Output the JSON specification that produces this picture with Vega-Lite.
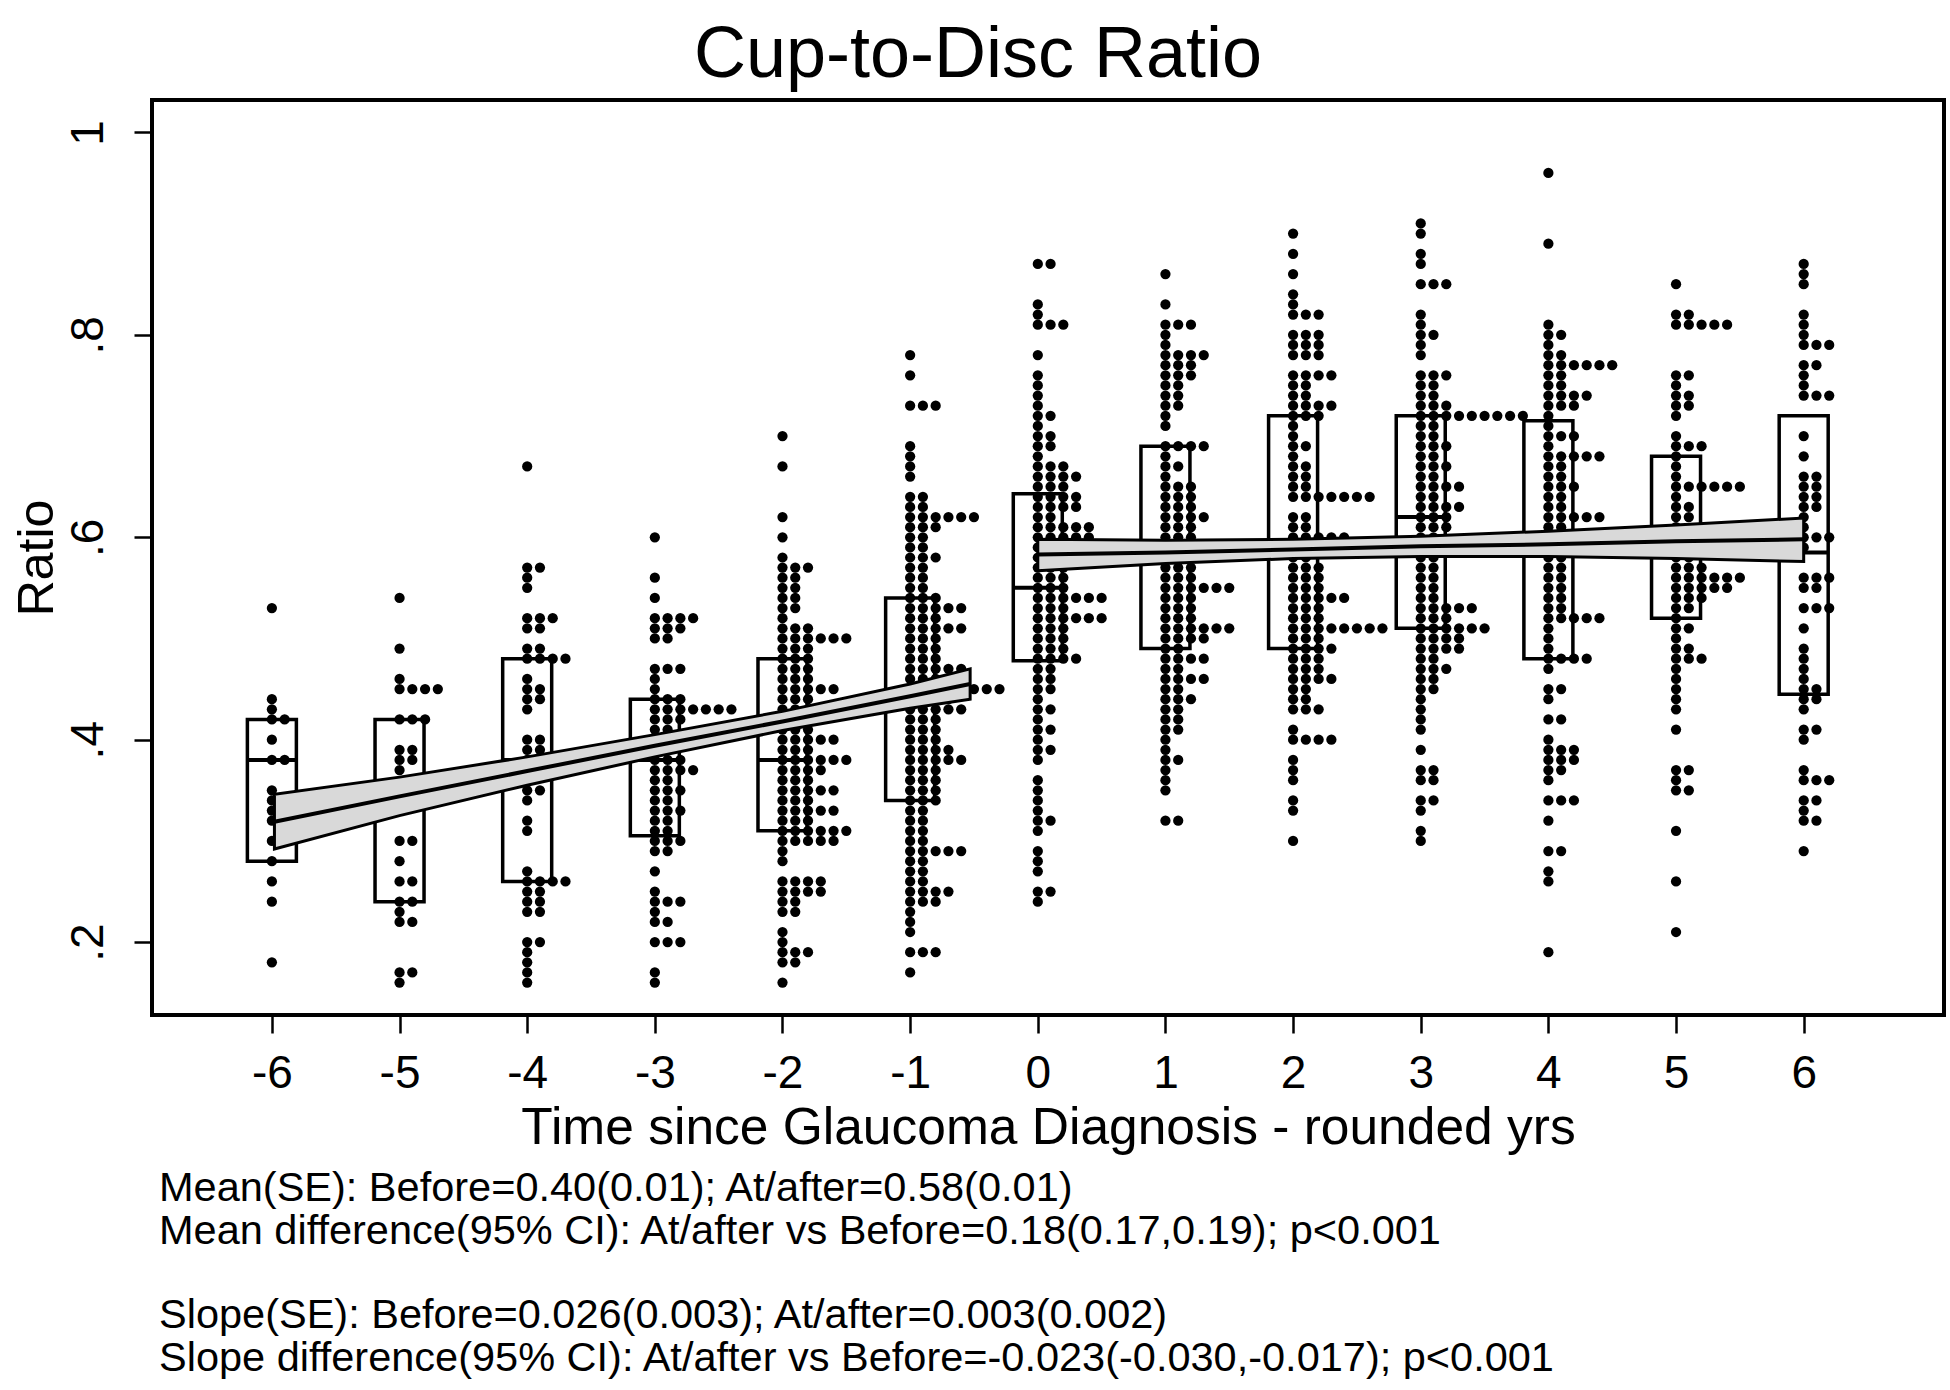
{
"$schema":"https://vega.github.io/schema/vega-lite/v6.json",
"background":"white",
"padding":{"left":10,"top":17,"right":0,"bottom":0},
"title":{"text":["Mean(SE): Before=0.40(0.01); At/after=0.58(0.01)","Mean difference(95% CI): At/after vs Before=0.18(0.17,0.19); p<0.001"],"subtitle":["Slope(SE): Before=0.026(0.003); At/after=0.003(0.002)","Slope difference(95% CI): At/after vs Before=-0.023(-0.030,-0.017); p<0.001"],"orient":"bottom","anchor":"start","frame":"bounds","dx":149,"offset":12,"fontSize":41.5,"lineHeight":43,"font":"Liberation Sans","fontWeight":"normal","color":"black","subtitleFontSize":41.5,"subtitleLineHeight":43,"subtitleFont":"Liberation Sans","subtitleFontWeight":"normal","subtitleColor":"black","subtitlePadding":43},
"config":{
"font":"Liberation Sans",
"view":{"stroke":"black","strokeWidth":4},
"axis":{"grid":false,"domain":false,"tickColor":"black","tickWidth":2.5,"tickSize":18,"labelColor":"black","titleColor":"black","labelFont":"Liberation Sans","titleFont":"Liberation Sans","labelFontSize":46,"titleFontSize":50,"titleFontWeight":"normal"}
},
"datasets":{
"boxes":[
{"t":-6,"q1":0.28,"med":0.38,"q3":0.42},
{"t":-5,"q1":0.24,"med":0.345,"q3":0.42},
{"t":-4,"q1":0.26,"med":0.38,"q3":0.48},
{"t":-3,"q1":0.305,"med":0.38,"q3":0.44},
{"t":-2,"q1":0.31,"med":0.38,"q3":0.48},
{"t":-1,"q1":0.34,"med":0.445,"q3":0.54},
{"t":0,"q1":0.478,"med":0.55,"q3":0.643},
{"t":1,"q1":0.49,"med":0.585,"q3":0.69},
{"t":2,"q1":0.49,"med":0.588,"q3":0.72},
{"t":3,"q1":0.51,"med":0.62,"q3":0.72},
{"t":4,"q1":0.48,"med":0.594,"q3":0.715},
{"t":5,"q1":0.52,"med":0.596,"q3":0.68},
{"t":6,"q1":0.445,"med":0.585,"q3":0.72}
],
"fits":[
{"g":"b","x":-5.98,"fit":0.319,"lo":0.292,"hi":0.346},
{"g":"b","x":-5,"fit":0.344,"lo":0.325,"hi":0.363},
{"g":"b","x":-4,"fit":0.369,"lo":0.355,"hi":0.383},
{"g":"b","x":-3,"fit":0.394,"lo":0.383,"hi":0.405},
{"g":"b","x":-2,"fit":0.418,"lo":0.409,"hi":0.428},
{"g":"b","x":-1,"fit":0.443,"lo":0.431,"hi":0.455},
{"g":"b","x":-0.53,"fit":0.455,"lo":0.44,"hi":0.47},
{"g":"a","x":0,"fit":0.583,"lo":0.567,"hi":0.598},
{"g":"a","x":1,"fit":0.585,"lo":0.574,"hi":0.597},
{"g":"a","x":2,"fit":0.588,"lo":0.579,"hi":0.598},
{"g":"a","x":3,"fit":0.591,"lo":0.581,"hi":0.601},
{"g":"a","x":4,"fit":0.593,"lo":0.581,"hi":0.606},
{"g":"a","x":5,"fit":0.596,"lo":0.579,"hi":0.612},
{"g":"a","x":6,"fit":0.598,"lo":0.576,"hi":0.619}
],
"dots":[
{"t":-6,"r":0.53},{"t":-6,"r":0.44},{"t":-6,"r":0.43},{"t":-6,"r":0.42},{"t":-6,"r":0.42},{"t":-6,"r":0.4},{"t":-6,"r":0.38},{"t":-6,"r":0.38},{"t":-6,"r":0.35},{"t":-6,"r":0.34},{"t":-6,"r":0.33},{"t":-6,"r":0.32},{"t":-6,"r":0.3},{"t":-6,"r":0.28},{"t":-6,"r":0.26},{"t":-6,"r":0.24},{"t":-6,"r":0.18},
{"t":-5,"r":0.54},{"t":-5,"r":0.49},{"t":-5,"r":0.46},{"t":-5,"r":0.45},{"t":-5,"r":0.45},{"t":-5,"r":0.45},{"t":-5,"r":0.45},{"t":-5,"r":0.42},{"t":-5,"r":0.42},{"t":-5,"r":0.42},{"t":-5,"r":0.39},{"t":-5,"r":0.39},{"t":-5,"r":0.38},{"t":-5,"r":0.38},{"t":-5,"r":0.37},{"t":-5,"r":0.35},{"t":-5,"r":0.33},{"t":-5,"r":0.3},{"t":-5,"r":0.3},{"t":-5,"r":0.28},{"t":-5,"r":0.26},{"t":-5,"r":0.26},{"t":-5,"r":0.24},{"t":-5,"r":0.24},{"t":-5,"r":0.23},{"t":-5,"r":0.22},{"t":-5,"r":0.22},{"t":-5,"r":0.17},{"t":-5,"r":0.17},{"t":-5,"r":0.16},
{"t":-4,"r":0.67},{"t":-4,"r":0.57},{"t":-4,"r":0.57},{"t":-4,"r":0.56},{"t":-4,"r":0.55},{"t":-4,"r":0.52},{"t":-4,"r":0.52},{"t":-4,"r":0.52},{"t":-4,"r":0.51},{"t":-4,"r":0.51},{"t":-4,"r":0.49},{"t":-4,"r":0.49},{"t":-4,"r":0.48},{"t":-4,"r":0.48},{"t":-4,"r":0.48},{"t":-4,"r":0.48},{"t":-4,"r":0.46},{"t":-4,"r":0.45},{"t":-4,"r":0.45},{"t":-4,"r":0.44},{"t":-4,"r":0.44},{"t":-4,"r":0.43},{"t":-4,"r":0.4},{"t":-4,"r":0.4},{"t":-4,"r":0.39},{"t":-4,"r":0.39},{"t":-4,"r":0.38},{"t":-4,"r":0.37},{"t":-4,"r":0.36},{"t":-4,"r":0.35},{"t":-4,"r":0.35},{"t":-4,"r":0.34},{"t":-4,"r":0.32},{"t":-4,"r":0.31},{"t":-4,"r":0.27},{"t":-4,"r":0.26},{"t":-4,"r":0.26},{"t":-4,"r":0.26},{"t":-4,"r":0.26},{"t":-4,"r":0.25},{"t":-4,"r":0.25},{"t":-4,"r":0.24},{"t":-4,"r":0.24},{"t":-4,"r":0.23},{"t":-4,"r":0.23},{"t":-4,"r":0.2},{"t":-4,"r":0.2},{"t":-4,"r":0.19},{"t":-4,"r":0.18},{"t":-4,"r":0.17},{"t":-4,"r":0.16},
{"t":-3,"r":0.6},{"t":-3,"r":0.56},{"t":-3,"r":0.54},{"t":-3,"r":0.52},{"t":-3,"r":0.52},{"t":-3,"r":0.52},{"t":-3,"r":0.52},{"t":-3,"r":0.51},{"t":-3,"r":0.51},{"t":-3,"r":0.51},{"t":-3,"r":0.5},{"t":-3,"r":0.5},{"t":-3,"r":0.47},{"t":-3,"r":0.47},{"t":-3,"r":0.47},{"t":-3,"r":0.46},{"t":-3,"r":0.45},{"t":-3,"r":0.44},{"t":-3,"r":0.44},{"t":-3,"r":0.44},{"t":-3,"r":0.43},{"t":-3,"r":0.43},{"t":-3,"r":0.43},{"t":-3,"r":0.43},{"t":-3,"r":0.43},{"t":-3,"r":0.43},{"t":-3,"r":0.43},{"t":-3,"r":0.42},{"t":-3,"r":0.42},{"t":-3,"r":0.42},{"t":-3,"r":0.41},{"t":-3,"r":0.41},{"t":-3,"r":0.4},{"t":-3,"r":0.39},{"t":-3,"r":0.38},{"t":-3,"r":0.38},{"t":-3,"r":0.38},{"t":-3,"r":0.37},{"t":-3,"r":0.37},{"t":-3,"r":0.37},{"t":-3,"r":0.37},{"t":-3,"r":0.36},{"t":-3,"r":0.36},{"t":-3,"r":0.35},{"t":-3,"r":0.35},{"t":-3,"r":0.35},{"t":-3,"r":0.34},{"t":-3,"r":0.34},{"t":-3,"r":0.33},{"t":-3,"r":0.33},{"t":-3,"r":0.33},{"t":-3,"r":0.32},{"t":-3,"r":0.32},{"t":-3,"r":0.31},{"t":-3,"r":0.31},{"t":-3,"r":0.3},{"t":-3,"r":0.3},{"t":-3,"r":0.3},{"t":-3,"r":0.29},{"t":-3,"r":0.29},{"t":-3,"r":0.27},{"t":-3,"r":0.25},{"t":-3,"r":0.24},{"t":-3,"r":0.24},{"t":-3,"r":0.24},{"t":-3,"r":0.23},{"t":-3,"r":0.22},{"t":-3,"r":0.22},{"t":-3,"r":0.2},{"t":-3,"r":0.2},{"t":-3,"r":0.2},{"t":-3,"r":0.17},{"t":-3,"r":0.16},
{"t":-2,"r":0.7},{"t":-2,"r":0.67},{"t":-2,"r":0.62},{"t":-2,"r":0.6},{"t":-2,"r":0.58},{"t":-2,"r":0.57},{"t":-2,"r":0.57},{"t":-2,"r":0.57},{"t":-2,"r":0.56},{"t":-2,"r":0.56},{"t":-2,"r":0.55},{"t":-2,"r":0.55},{"t":-2,"r":0.54},{"t":-2,"r":0.54},{"t":-2,"r":0.53},{"t":-2,"r":0.53},{"t":-2,"r":0.52},{"t":-2,"r":0.51},{"t":-2,"r":0.51},{"t":-2,"r":0.51},{"t":-2,"r":0.5},{"t":-2,"r":0.5},{"t":-2,"r":0.5},{"t":-2,"r":0.5},{"t":-2,"r":0.5},{"t":-2,"r":0.5},{"t":-2,"r":0.49},{"t":-2,"r":0.49},{"t":-2,"r":0.49},{"t":-2,"r":0.48},{"t":-2,"r":0.48},{"t":-2,"r":0.48},{"t":-2,"r":0.47},{"t":-2,"r":0.47},{"t":-2,"r":0.47},{"t":-2,"r":0.46},{"t":-2,"r":0.46},{"t":-2,"r":0.46},{"t":-2,"r":0.45},{"t":-2,"r":0.45},{"t":-2,"r":0.45},{"t":-2,"r":0.45},{"t":-2,"r":0.45},{"t":-2,"r":0.44},{"t":-2,"r":0.44},{"t":-2,"r":0.44},{"t":-2,"r":0.43},{"t":-2,"r":0.43},{"t":-2,"r":0.43},{"t":-2,"r":0.42},{"t":-2,"r":0.42},{"t":-2,"r":0.42},{"t":-2,"r":0.41},{"t":-2,"r":0.41},{"t":-2,"r":0.41},{"t":-2,"r":0.4},{"t":-2,"r":0.4},{"t":-2,"r":0.4},{"t":-2,"r":0.4},{"t":-2,"r":0.4},{"t":-2,"r":0.39},{"t":-2,"r":0.39},{"t":-2,"r":0.39},{"t":-2,"r":0.38},{"t":-2,"r":0.38},{"t":-2,"r":0.38},{"t":-2,"r":0.38},{"t":-2,"r":0.38},{"t":-2,"r":0.38},{"t":-2,"r":0.37},{"t":-2,"r":0.37},{"t":-2,"r":0.37},{"t":-2,"r":0.37},{"t":-2,"r":0.36},{"t":-2,"r":0.36},{"t":-2,"r":0.36},{"t":-2,"r":0.35},{"t":-2,"r":0.35},{"t":-2,"r":0.35},{"t":-2,"r":0.35},{"t":-2,"r":0.35},{"t":-2,"r":0.34},{"t":-2,"r":0.34},{"t":-2,"r":0.34},{"t":-2,"r":0.33},{"t":-2,"r":0.33},{"t":-2,"r":0.33},{"t":-2,"r":0.33},{"t":-2,"r":0.33},{"t":-2,"r":0.32},{"t":-2,"r":0.32},{"t":-2,"r":0.32},{"t":-2,"r":0.31},{"t":-2,"r":0.31},{"t":-2,"r":0.31},{"t":-2,"r":0.31},{"t":-2,"r":0.31},{"t":-2,"r":0.31},{"t":-2,"r":0.3},{"t":-2,"r":0.3},{"t":-2,"r":0.3},{"t":-2,"r":0.3},{"t":-2,"r":0.3},{"t":-2,"r":0.29},{"t":-2,"r":0.28},{"t":-2,"r":0.26},{"t":-2,"r":0.26},{"t":-2,"r":0.26},{"t":-2,"r":0.26},{"t":-2,"r":0.25},{"t":-2,"r":0.25},{"t":-2,"r":0.25},{"t":-2,"r":0.25},{"t":-2,"r":0.24},{"t":-2,"r":0.24},{"t":-2,"r":0.23},{"t":-2,"r":0.23},{"t":-2,"r":0.21},{"t":-2,"r":0.2},{"t":-2,"r":0.19},{"t":-2,"r":0.19},{"t":-2,"r":0.19},{"t":-2,"r":0.18},{"t":-2,"r":0.18},{"t":-2,"r":0.16},
{"t":-1,"r":0.78},{"t":-1,"r":0.76},{"t":-1,"r":0.73},{"t":-1,"r":0.73},{"t":-1,"r":0.73},{"t":-1,"r":0.69},{"t":-1,"r":0.68},{"t":-1,"r":0.67},{"t":-1,"r":0.66},{"t":-1,"r":0.64},{"t":-1,"r":0.64},{"t":-1,"r":0.63},{"t":-1,"r":0.63},{"t":-1,"r":0.62},{"t":-1,"r":0.62},{"t":-1,"r":0.62},{"t":-1,"r":0.62},{"t":-1,"r":0.62},{"t":-1,"r":0.62},{"t":-1,"r":0.61},{"t":-1,"r":0.61},{"t":-1,"r":0.61},{"t":-1,"r":0.6},{"t":-1,"r":0.6},{"t":-1,"r":0.59},{"t":-1,"r":0.59},{"t":-1,"r":0.58},{"t":-1,"r":0.58},{"t":-1,"r":0.58},{"t":-1,"r":0.57},{"t":-1,"r":0.57},{"t":-1,"r":0.56},{"t":-1,"r":0.56},{"t":-1,"r":0.55},{"t":-1,"r":0.55},{"t":-1,"r":0.54},{"t":-1,"r":0.54},{"t":-1,"r":0.54},{"t":-1,"r":0.53},{"t":-1,"r":0.53},{"t":-1,"r":0.53},{"t":-1,"r":0.53},{"t":-1,"r":0.53},{"t":-1,"r":0.52},{"t":-1,"r":0.52},{"t":-1,"r":0.52},{"t":-1,"r":0.51},{"t":-1,"r":0.51},{"t":-1,"r":0.51},{"t":-1,"r":0.51},{"t":-1,"r":0.51},{"t":-1,"r":0.5},{"t":-1,"r":0.5},{"t":-1,"r":0.5},{"t":-1,"r":0.49},{"t":-1,"r":0.49},{"t":-1,"r":0.49},{"t":-1,"r":0.48},{"t":-1,"r":0.48},{"t":-1,"r":0.48},{"t":-1,"r":0.47},{"t":-1,"r":0.47},{"t":-1,"r":0.47},{"t":-1,"r":0.47},{"t":-1,"r":0.47},{"t":-1,"r":0.46},{"t":-1,"r":0.46},{"t":-1,"r":0.46},{"t":-1,"r":0.46},{"t":-1,"r":0.45},{"t":-1,"r":0.45},{"t":-1,"r":0.45},{"t":-1,"r":0.45},{"t":-1,"r":0.45},{"t":-1,"r":0.45},{"t":-1,"r":0.45},{"t":-1,"r":0.45},{"t":-1,"r":0.44},{"t":-1,"r":0.44},{"t":-1,"r":0.44},{"t":-1,"r":0.44},{"t":-1,"r":0.43},{"t":-1,"r":0.43},{"t":-1,"r":0.43},{"t":-1,"r":0.43},{"t":-1,"r":0.43},{"t":-1,"r":0.42},{"t":-1,"r":0.42},{"t":-1,"r":0.42},{"t":-1,"r":0.41},{"t":-1,"r":0.41},{"t":-1,"r":0.41},{"t":-1,"r":0.4},{"t":-1,"r":0.4},{"t":-1,"r":0.4},{"t":-1,"r":0.39},{"t":-1,"r":0.39},{"t":-1,"r":0.39},{"t":-1,"r":0.39},{"t":-1,"r":0.38},{"t":-1,"r":0.38},{"t":-1,"r":0.38},{"t":-1,"r":0.38},{"t":-1,"r":0.38},{"t":-1,"r":0.37},{"t":-1,"r":0.37},{"t":-1,"r":0.37},{"t":-1,"r":0.36},{"t":-1,"r":0.36},{"t":-1,"r":0.36},{"t":-1,"r":0.35},{"t":-1,"r":0.35},{"t":-1,"r":0.35},{"t":-1,"r":0.34},{"t":-1,"r":0.34},{"t":-1,"r":0.34},{"t":-1,"r":0.33},{"t":-1,"r":0.33},{"t":-1,"r":0.32},{"t":-1,"r":0.32},{"t":-1,"r":0.31},{"t":-1,"r":0.31},{"t":-1,"r":0.3},{"t":-1,"r":0.3},{"t":-1,"r":0.29},{"t":-1,"r":0.29},{"t":-1,"r":0.29},{"t":-1,"r":0.29},{"t":-1,"r":0.29},{"t":-1,"r":0.28},{"t":-1,"r":0.28},{"t":-1,"r":0.27},{"t":-1,"r":0.27},{"t":-1,"r":0.26},{"t":-1,"r":0.26},{"t":-1,"r":0.25},{"t":-1,"r":0.25},{"t":-1,"r":0.25},{"t":-1,"r":0.25},{"t":-1,"r":0.24},{"t":-1,"r":0.24},{"t":-1,"r":0.24},{"t":-1,"r":0.23},{"t":-1,"r":0.22},{"t":-1,"r":0.21},{"t":-1,"r":0.19},{"t":-1,"r":0.19},{"t":-1,"r":0.19},{"t":-1,"r":0.17},
{"t":0,"r":0.87},{"t":0,"r":0.87},{"t":0,"r":0.83},{"t":0,"r":0.82},{"t":0,"r":0.81},{"t":0,"r":0.81},{"t":0,"r":0.81},{"t":0,"r":0.78},{"t":0,"r":0.76},{"t":0,"r":0.75},{"t":0,"r":0.74},{"t":0,"r":0.73},{"t":0,"r":0.72},{"t":0,"r":0.72},{"t":0,"r":0.71},{"t":0,"r":0.7},{"t":0,"r":0.7},{"t":0,"r":0.69},{"t":0,"r":0.69},{"t":0,"r":0.68},{"t":0,"r":0.67},{"t":0,"r":0.67},{"t":0,"r":0.67},{"t":0,"r":0.66},{"t":0,"r":0.66},{"t":0,"r":0.66},{"t":0,"r":0.66},{"t":0,"r":0.65},{"t":0,"r":0.65},{"t":0,"r":0.65},{"t":0,"r":0.64},{"t":0,"r":0.64},{"t":0,"r":0.64},{"t":0,"r":0.64},{"t":0,"r":0.63},{"t":0,"r":0.63},{"t":0,"r":0.63},{"t":0,"r":0.63},{"t":0,"r":0.62},{"t":0,"r":0.62},{"t":0,"r":0.61},{"t":0,"r":0.61},{"t":0,"r":0.61},{"t":0,"r":0.61},{"t":0,"r":0.61},{"t":0,"r":0.6},{"t":0,"r":0.6},{"t":0,"r":0.6},{"t":0,"r":0.6},{"t":0,"r":0.6},{"t":0,"r":0.59},{"t":0,"r":0.59},{"t":0,"r":0.59},{"t":0,"r":0.58},{"t":0,"r":0.58},{"t":0,"r":0.58},{"t":0,"r":0.57},{"t":0,"r":0.57},{"t":0,"r":0.57},{"t":0,"r":0.56},{"t":0,"r":0.56},{"t":0,"r":0.56},{"t":0,"r":0.55},{"t":0,"r":0.55},{"t":0,"r":0.55},{"t":0,"r":0.54},{"t":0,"r":0.54},{"t":0,"r":0.54},{"t":0,"r":0.54},{"t":0,"r":0.54},{"t":0,"r":0.54},{"t":0,"r":0.53},{"t":0,"r":0.53},{"t":0,"r":0.53},{"t":0,"r":0.52},{"t":0,"r":0.52},{"t":0,"r":0.52},{"t":0,"r":0.52},{"t":0,"r":0.52},{"t":0,"r":0.52},{"t":0,"r":0.51},{"t":0,"r":0.51},{"t":0,"r":0.51},{"t":0,"r":0.5},{"t":0,"r":0.5},{"t":0,"r":0.5},{"t":0,"r":0.49},{"t":0,"r":0.49},{"t":0,"r":0.49},{"t":0,"r":0.48},{"t":0,"r":0.48},{"t":0,"r":0.48},{"t":0,"r":0.48},{"t":0,"r":0.47},{"t":0,"r":0.47},{"t":0,"r":0.46},{"t":0,"r":0.46},{"t":0,"r":0.45},{"t":0,"r":0.45},{"t":0,"r":0.44},{"t":0,"r":0.43},{"t":0,"r":0.43},{"t":0,"r":0.42},{"t":0,"r":0.41},{"t":0,"r":0.41},{"t":0,"r":0.4},{"t":0,"r":0.39},{"t":0,"r":0.39},{"t":0,"r":0.38},{"t":0,"r":0.36},{"t":0,"r":0.35},{"t":0,"r":0.34},{"t":0,"r":0.33},{"t":0,"r":0.32},{"t":0,"r":0.32},{"t":0,"r":0.31},{"t":0,"r":0.29},{"t":0,"r":0.28},{"t":0,"r":0.27},{"t":0,"r":0.25},{"t":0,"r":0.25},{"t":0,"r":0.24},
{"t":1,"r":0.86},{"t":1,"r":0.83},{"t":1,"r":0.81},{"t":1,"r":0.81},{"t":1,"r":0.81},{"t":1,"r":0.8},{"t":1,"r":0.79},{"t":1,"r":0.78},{"t":1,"r":0.78},{"t":1,"r":0.78},{"t":1,"r":0.78},{"t":1,"r":0.77},{"t":1,"r":0.77},{"t":1,"r":0.77},{"t":1,"r":0.76},{"t":1,"r":0.76},{"t":1,"r":0.76},{"t":1,"r":0.75},{"t":1,"r":0.75},{"t":1,"r":0.74},{"t":1,"r":0.74},{"t":1,"r":0.73},{"t":1,"r":0.73},{"t":1,"r":0.72},{"t":1,"r":0.71},{"t":1,"r":0.69},{"t":1,"r":0.69},{"t":1,"r":0.69},{"t":1,"r":0.69},{"t":1,"r":0.68},{"t":1,"r":0.67},{"t":1,"r":0.67},{"t":1,"r":0.66},{"t":1,"r":0.65},{"t":1,"r":0.65},{"t":1,"r":0.65},{"t":1,"r":0.64},{"t":1,"r":0.64},{"t":1,"r":0.64},{"t":1,"r":0.63},{"t":1,"r":0.63},{"t":1,"r":0.63},{"t":1,"r":0.62},{"t":1,"r":0.62},{"t":1,"r":0.62},{"t":1,"r":0.62},{"t":1,"r":0.61},{"t":1,"r":0.61},{"t":1,"r":0.61},{"t":1,"r":0.6},{"t":1,"r":0.6},{"t":1,"r":0.6},{"t":1,"r":0.59},{"t":1,"r":0.59},{"t":1,"r":0.59},{"t":1,"r":0.58},{"t":1,"r":0.58},{"t":1,"r":0.58},{"t":1,"r":0.57},{"t":1,"r":0.57},{"t":1,"r":0.57},{"t":1,"r":0.56},{"t":1,"r":0.56},{"t":1,"r":0.56},{"t":1,"r":0.55},{"t":1,"r":0.55},{"t":1,"r":0.55},{"t":1,"r":0.55},{"t":1,"r":0.55},{"t":1,"r":0.55},{"t":1,"r":0.54},{"t":1,"r":0.54},{"t":1,"r":0.54},{"t":1,"r":0.53},{"t":1,"r":0.53},{"t":1,"r":0.53},{"t":1,"r":0.52},{"t":1,"r":0.52},{"t":1,"r":0.52},{"t":1,"r":0.51},{"t":1,"r":0.51},{"t":1,"r":0.51},{"t":1,"r":0.51},{"t":1,"r":0.51},{"t":1,"r":0.51},{"t":1,"r":0.5},{"t":1,"r":0.5},{"t":1,"r":0.5},{"t":1,"r":0.5},{"t":1,"r":0.49},{"t":1,"r":0.49},{"t":1,"r":0.48},{"t":1,"r":0.48},{"t":1,"r":0.48},{"t":1,"r":0.48},{"t":1,"r":0.47},{"t":1,"r":0.47},{"t":1,"r":0.46},{"t":1,"r":0.46},{"t":1,"r":0.46},{"t":1,"r":0.46},{"t":1,"r":0.45},{"t":1,"r":0.45},{"t":1,"r":0.44},{"t":1,"r":0.44},{"t":1,"r":0.44},{"t":1,"r":0.43},{"t":1,"r":0.43},{"t":1,"r":0.42},{"t":1,"r":0.42},{"t":1,"r":0.41},{"t":1,"r":0.41},{"t":1,"r":0.4},{"t":1,"r":0.39},{"t":1,"r":0.38},{"t":1,"r":0.38},{"t":1,"r":0.37},{"t":1,"r":0.36},{"t":1,"r":0.35},{"t":1,"r":0.32},{"t":1,"r":0.32},
{"t":2,"r":0.9},{"t":2,"r":0.88},{"t":2,"r":0.86},{"t":2,"r":0.84},{"t":2,"r":0.83},{"t":2,"r":0.82},{"t":2,"r":0.82},{"t":2,"r":0.82},{"t":2,"r":0.8},{"t":2,"r":0.8},{"t":2,"r":0.8},{"t":2,"r":0.79},{"t":2,"r":0.79},{"t":2,"r":0.79},{"t":2,"r":0.78},{"t":2,"r":0.78},{"t":2,"r":0.78},{"t":2,"r":0.76},{"t":2,"r":0.76},{"t":2,"r":0.76},{"t":2,"r":0.76},{"t":2,"r":0.75},{"t":2,"r":0.75},{"t":2,"r":0.74},{"t":2,"r":0.74},{"t":2,"r":0.73},{"t":2,"r":0.73},{"t":2,"r":0.73},{"t":2,"r":0.73},{"t":2,"r":0.72},{"t":2,"r":0.72},{"t":2,"r":0.72},{"t":2,"r":0.71},{"t":2,"r":0.7},{"t":2,"r":0.69},{"t":2,"r":0.69},{"t":2,"r":0.68},{"t":2,"r":0.67},{"t":2,"r":0.67},{"t":2,"r":0.66},{"t":2,"r":0.66},{"t":2,"r":0.65},{"t":2,"r":0.65},{"t":2,"r":0.64},{"t":2,"r":0.64},{"t":2,"r":0.64},{"t":2,"r":0.64},{"t":2,"r":0.64},{"t":2,"r":0.64},{"t":2,"r":0.64},{"t":2,"r":0.62},{"t":2,"r":0.62},{"t":2,"r":0.61},{"t":2,"r":0.61},{"t":2,"r":0.6},{"t":2,"r":0.6},{"t":2,"r":0.6},{"t":2,"r":0.6},{"t":2,"r":0.6},{"t":2,"r":0.59},{"t":2,"r":0.59},{"t":2,"r":0.58},{"t":2,"r":0.58},{"t":2,"r":0.57},{"t":2,"r":0.57},{"t":2,"r":0.57},{"t":2,"r":0.56},{"t":2,"r":0.56},{"t":2,"r":0.56},{"t":2,"r":0.55},{"t":2,"r":0.55},{"t":2,"r":0.55},{"t":2,"r":0.54},{"t":2,"r":0.54},{"t":2,"r":0.54},{"t":2,"r":0.54},{"t":2,"r":0.54},{"t":2,"r":0.53},{"t":2,"r":0.53},{"t":2,"r":0.53},{"t":2,"r":0.52},{"t":2,"r":0.52},{"t":2,"r":0.52},{"t":2,"r":0.51},{"t":2,"r":0.51},{"t":2,"r":0.51},{"t":2,"r":0.51},{"t":2,"r":0.51},{"t":2,"r":0.51},{"t":2,"r":0.51},{"t":2,"r":0.51},{"t":2,"r":0.5},{"t":2,"r":0.5},{"t":2,"r":0.5},{"t":2,"r":0.49},{"t":2,"r":0.49},{"t":2,"r":0.49},{"t":2,"r":0.49},{"t":2,"r":0.48},{"t":2,"r":0.48},{"t":2,"r":0.48},{"t":2,"r":0.47},{"t":2,"r":0.47},{"t":2,"r":0.47},{"t":2,"r":0.46},{"t":2,"r":0.46},{"t":2,"r":0.46},{"t":2,"r":0.46},{"t":2,"r":0.45},{"t":2,"r":0.45},{"t":2,"r":0.44},{"t":2,"r":0.44},{"t":2,"r":0.43},{"t":2,"r":0.43},{"t":2,"r":0.43},{"t":2,"r":0.41},{"t":2,"r":0.4},{"t":2,"r":0.4},{"t":2,"r":0.4},{"t":2,"r":0.4},{"t":2,"r":0.38},{"t":2,"r":0.37},{"t":2,"r":0.36},{"t":2,"r":0.34},{"t":2,"r":0.33},{"t":2,"r":0.3},
{"t":3,"r":0.91},{"t":3,"r":0.9},{"t":3,"r":0.88},{"t":3,"r":0.87},{"t":3,"r":0.85},{"t":3,"r":0.85},{"t":3,"r":0.85},{"t":3,"r":0.82},{"t":3,"r":0.81},{"t":3,"r":0.8},{"t":3,"r":0.8},{"t":3,"r":0.79},{"t":3,"r":0.78},{"t":3,"r":0.76},{"t":3,"r":0.76},{"t":3,"r":0.76},{"t":3,"r":0.75},{"t":3,"r":0.75},{"t":3,"r":0.74},{"t":3,"r":0.74},{"t":3,"r":0.73},{"t":3,"r":0.73},{"t":3,"r":0.73},{"t":3,"r":0.72},{"t":3,"r":0.72},{"t":3,"r":0.72},{"t":3,"r":0.72},{"t":3,"r":0.72},{"t":3,"r":0.72},{"t":3,"r":0.72},{"t":3,"r":0.72},{"t":3,"r":0.72},{"t":3,"r":0.71},{"t":3,"r":0.71},{"t":3,"r":0.7},{"t":3,"r":0.7},{"t":3,"r":0.69},{"t":3,"r":0.69},{"t":3,"r":0.69},{"t":3,"r":0.68},{"t":3,"r":0.68},{"t":3,"r":0.67},{"t":3,"r":0.67},{"t":3,"r":0.67},{"t":3,"r":0.66},{"t":3,"r":0.66},{"t":3,"r":0.65},{"t":3,"r":0.65},{"t":3,"r":0.65},{"t":3,"r":0.65},{"t":3,"r":0.64},{"t":3,"r":0.64},{"t":3,"r":0.63},{"t":3,"r":0.63},{"t":3,"r":0.63},{"t":3,"r":0.63},{"t":3,"r":0.62},{"t":3,"r":0.62},{"t":3,"r":0.62},{"t":3,"r":0.61},{"t":3,"r":0.61},{"t":3,"r":0.61},{"t":3,"r":0.6},{"t":3,"r":0.6},{"t":3,"r":0.59},{"t":3,"r":0.59},{"t":3,"r":0.58},{"t":3,"r":0.58},{"t":3,"r":0.57},{"t":3,"r":0.57},{"t":3,"r":0.56},{"t":3,"r":0.56},{"t":3,"r":0.55},{"t":3,"r":0.55},{"t":3,"r":0.54},{"t":3,"r":0.54},{"t":3,"r":0.53},{"t":3,"r":0.53},{"t":3,"r":0.53},{"t":3,"r":0.53},{"t":3,"r":0.53},{"t":3,"r":0.52},{"t":3,"r":0.52},{"t":3,"r":0.52},{"t":3,"r":0.51},{"t":3,"r":0.51},{"t":3,"r":0.51},{"t":3,"r":0.51},{"t":3,"r":0.51},{"t":3,"r":0.51},{"t":3,"r":0.5},{"t":3,"r":0.5},{"t":3,"r":0.5},{"t":3,"r":0.5},{"t":3,"r":0.49},{"t":3,"r":0.49},{"t":3,"r":0.49},{"t":3,"r":0.49},{"t":3,"r":0.48},{"t":3,"r":0.48},{"t":3,"r":0.47},{"t":3,"r":0.47},{"t":3,"r":0.47},{"t":3,"r":0.46},{"t":3,"r":0.46},{"t":3,"r":0.45},{"t":3,"r":0.45},{"t":3,"r":0.44},{"t":3,"r":0.43},{"t":3,"r":0.42},{"t":3,"r":0.41},{"t":3,"r":0.39},{"t":3,"r":0.37},{"t":3,"r":0.37},{"t":3,"r":0.36},{"t":3,"r":0.36},{"t":3,"r":0.34},{"t":3,"r":0.34},{"t":3,"r":0.33},{"t":3,"r":0.31},{"t":3,"r":0.3},
{"t":4,"r":0.96},{"t":4,"r":0.89},{"t":4,"r":0.81},{"t":4,"r":0.8},{"t":4,"r":0.8},{"t":4,"r":0.79},{"t":4,"r":0.78},{"t":4,"r":0.78},{"t":4,"r":0.77},{"t":4,"r":0.77},{"t":4,"r":0.77},{"t":4,"r":0.77},{"t":4,"r":0.77},{"t":4,"r":0.77},{"t":4,"r":0.76},{"t":4,"r":0.76},{"t":4,"r":0.75},{"t":4,"r":0.75},{"t":4,"r":0.74},{"t":4,"r":0.74},{"t":4,"r":0.74},{"t":4,"r":0.74},{"t":4,"r":0.73},{"t":4,"r":0.73},{"t":4,"r":0.73},{"t":4,"r":0.72},{"t":4,"r":0.71},{"t":4,"r":0.7},{"t":4,"r":0.7},{"t":4,"r":0.7},{"t":4,"r":0.69},{"t":4,"r":0.68},{"t":4,"r":0.68},{"t":4,"r":0.68},{"t":4,"r":0.68},{"t":4,"r":0.68},{"t":4,"r":0.67},{"t":4,"r":0.67},{"t":4,"r":0.66},{"t":4,"r":0.66},{"t":4,"r":0.65},{"t":4,"r":0.65},{"t":4,"r":0.65},{"t":4,"r":0.64},{"t":4,"r":0.64},{"t":4,"r":0.63},{"t":4,"r":0.63},{"t":4,"r":0.62},{"t":4,"r":0.62},{"t":4,"r":0.62},{"t":4,"r":0.62},{"t":4,"r":0.62},{"t":4,"r":0.61},{"t":4,"r":0.61},{"t":4,"r":0.6},{"t":4,"r":0.6},{"t":4,"r":0.59},{"t":4,"r":0.59},{"t":4,"r":0.58},{"t":4,"r":0.58},{"t":4,"r":0.57},{"t":4,"r":0.57},{"t":4,"r":0.56},{"t":4,"r":0.56},{"t":4,"r":0.55},{"t":4,"r":0.55},{"t":4,"r":0.54},{"t":4,"r":0.54},{"t":4,"r":0.53},{"t":4,"r":0.53},{"t":4,"r":0.52},{"t":4,"r":0.52},{"t":4,"r":0.52},{"t":4,"r":0.52},{"t":4,"r":0.52},{"t":4,"r":0.51},{"t":4,"r":0.5},{"t":4,"r":0.49},{"t":4,"r":0.48},{"t":4,"r":0.48},{"t":4,"r":0.48},{"t":4,"r":0.48},{"t":4,"r":0.47},{"t":4,"r":0.45},{"t":4,"r":0.45},{"t":4,"r":0.44},{"t":4,"r":0.42},{"t":4,"r":0.42},{"t":4,"r":0.4},{"t":4,"r":0.39},{"t":4,"r":0.39},{"t":4,"r":0.39},{"t":4,"r":0.38},{"t":4,"r":0.38},{"t":4,"r":0.38},{"t":4,"r":0.37},{"t":4,"r":0.37},{"t":4,"r":0.36},{"t":4,"r":0.34},{"t":4,"r":0.34},{"t":4,"r":0.34},{"t":4,"r":0.32},{"t":4,"r":0.29},{"t":4,"r":0.29},{"t":4,"r":0.27},{"t":4,"r":0.26},{"t":4,"r":0.19},
{"t":5,"r":0.85},{"t":5,"r":0.82},{"t":5,"r":0.82},{"t":5,"r":0.81},{"t":5,"r":0.81},{"t":5,"r":0.81},{"t":5,"r":0.81},{"t":5,"r":0.81},{"t":5,"r":0.76},{"t":5,"r":0.76},{"t":5,"r":0.75},{"t":5,"r":0.74},{"t":5,"r":0.74},{"t":5,"r":0.73},{"t":5,"r":0.73},{"t":5,"r":0.72},{"t":5,"r":0.7},{"t":5,"r":0.69},{"t":5,"r":0.69},{"t":5,"r":0.69},{"t":5,"r":0.68},{"t":5,"r":0.67},{"t":5,"r":0.66},{"t":5,"r":0.65},{"t":5,"r":0.65},{"t":5,"r":0.65},{"t":5,"r":0.65},{"t":5,"r":0.65},{"t":5,"r":0.65},{"t":5,"r":0.64},{"t":5,"r":0.63},{"t":5,"r":0.63},{"t":5,"r":0.62},{"t":5,"r":0.62},{"t":5,"r":0.61},{"t":5,"r":0.6},{"t":5,"r":0.59},{"t":5,"r":0.59},{"t":5,"r":0.58},{"t":5,"r":0.58},{"t":5,"r":0.57},{"t":5,"r":0.57},{"t":5,"r":0.57},{"t":5,"r":0.56},{"t":5,"r":0.56},{"t":5,"r":0.56},{"t":5,"r":0.56},{"t":5,"r":0.56},{"t":5,"r":0.56},{"t":5,"r":0.55},{"t":5,"r":0.55},{"t":5,"r":0.55},{"t":5,"r":0.55},{"t":5,"r":0.55},{"t":5,"r":0.54},{"t":5,"r":0.54},{"t":5,"r":0.54},{"t":5,"r":0.53},{"t":5,"r":0.53},{"t":5,"r":0.52},{"t":5,"r":0.51},{"t":5,"r":0.51},{"t":5,"r":0.5},{"t":5,"r":0.49},{"t":5,"r":0.49},{"t":5,"r":0.48},{"t":5,"r":0.48},{"t":5,"r":0.48},{"t":5,"r":0.47},{"t":5,"r":0.46},{"t":5,"r":0.45},{"t":5,"r":0.44},{"t":5,"r":0.43},{"t":5,"r":0.41},{"t":5,"r":0.37},{"t":5,"r":0.37},{"t":5,"r":0.36},{"t":5,"r":0.35},{"t":5,"r":0.35},{"t":5,"r":0.31},{"t":5,"r":0.26},{"t":5,"r":0.21},
{"t":6,"r":0.87},{"t":6,"r":0.86},{"t":6,"r":0.85},{"t":6,"r":0.82},{"t":6,"r":0.81},{"t":6,"r":0.8},{"t":6,"r":0.79},{"t":6,"r":0.79},{"t":6,"r":0.79},{"t":6,"r":0.77},{"t":6,"r":0.77},{"t":6,"r":0.76},{"t":6,"r":0.75},{"t":6,"r":0.74},{"t":6,"r":0.74},{"t":6,"r":0.74},{"t":6,"r":0.7},{"t":6,"r":0.68},{"t":6,"r":0.66},{"t":6,"r":0.66},{"t":6,"r":0.65},{"t":6,"r":0.65},{"t":6,"r":0.64},{"t":6,"r":0.64},{"t":6,"r":0.63},{"t":6,"r":0.63},{"t":6,"r":0.62},{"t":6,"r":0.61},{"t":6,"r":0.6},{"t":6,"r":0.6},{"t":6,"r":0.6},{"t":6,"r":0.59},{"t":6,"r":0.56},{"t":6,"r":0.56},{"t":6,"r":0.56},{"t":6,"r":0.55},{"t":6,"r":0.55},{"t":6,"r":0.53},{"t":6,"r":0.53},{"t":6,"r":0.53},{"t":6,"r":0.51},{"t":6,"r":0.49},{"t":6,"r":0.48},{"t":6,"r":0.47},{"t":6,"r":0.46},{"t":6,"r":0.45},{"t":6,"r":0.45},{"t":6,"r":0.44},{"t":6,"r":0.44},{"t":6,"r":0.43},{"t":6,"r":0.41},{"t":6,"r":0.41},{"t":6,"r":0.4},{"t":6,"r":0.37},{"t":6,"r":0.36},{"t":6,"r":0.36},{"t":6,"r":0.36},{"t":6,"r":0.34},{"t":6,"r":0.34},{"t":6,"r":0.33},{"t":6,"r":0.32},{"t":6,"r":0.32},{"t":6,"r":0.29}
]
},
"vconcat":[{
"width":1792,
"height":915,
"title":{"text":"Cup-to-Disc Ratio","fontSize":72,"offset":8,"anchor":"middle","frame":"bounds","font":"Liberation Sans","fontWeight":"normal","color":"black"},
"encoding":{
"x":{"type":"quantitative","scale":{"domain":[-6.9,7.06],"nice":false,"zero":false},"axis":{"title":"Time since Glaucoma Diagnosis - rounded yrs","titleFontSize":51.5,"values":[-6,-5,-4,-3,-2,-1,0,1,2,3,4,5,6],"labelExpr":"'' + datum.value","labelPadding":18,"titlePadding":6,"labelFlush":false}},
"y":{"type":"quantitative","scale":{"domain":[0.128,1.032],"nice":false,"zero":false},"axis":{"title":"Ratio","values":[0.2,0.4,0.6,0.8,1],"labelExpr":"datum.value >= 0.999 ? '1' : '.' + round(datum.value*10)","labelAngle":-90,"labelPadding":22,"titlePadding":3,"labelFlush":false}}
},
"layer":[
{"data":{"name":"boxes"},"mark":{"type":"bar","width":49,"fillOpacity":0,"stroke":"black","strokeWidth":3.5},"encoding":{"x":{"field":"t"},"y":{"field":"q1"},"y2":{"field":"q3"}}},
{"data":{"name":"dots"},"transform":[{"window":[{"op":"row_number","as":"k"}],"groupby":["t","r"]},{"calculate":"datum.t + (datum.k - 1) * 0.1","as":"px"}],"mark":{"type":"circle","size":105,"color":"black","opacity":1},"encoding":{"x":{"field":"px"},"y":{"field":"r"}}},
{"data":{"name":"boxes"},"mark":{"type":"tick","orient":"horizontal","size":49,"thickness":4,"color":"black","opacity":1},"encoding":{"x":{"field":"t"},"y":{"field":"med"}}},
{"data":{"name":"fits"},"mark":{"type":"area","fill":"#d9d9d9","fillOpacity":1,"stroke":"black","strokeWidth":3,"opacity":1},"encoding":{"x":{"field":"x"},"y":{"field":"lo"},"y2":{"field":"hi"},"detail":{"field":"g"}}},
{"data":{"name":"fits"},"mark":{"type":"line","color":"black","strokeWidth":4},"encoding":{"x":{"field":"x"},"y":{"field":"fit"},"detail":{"field":"g"}}}
]
}]
}
